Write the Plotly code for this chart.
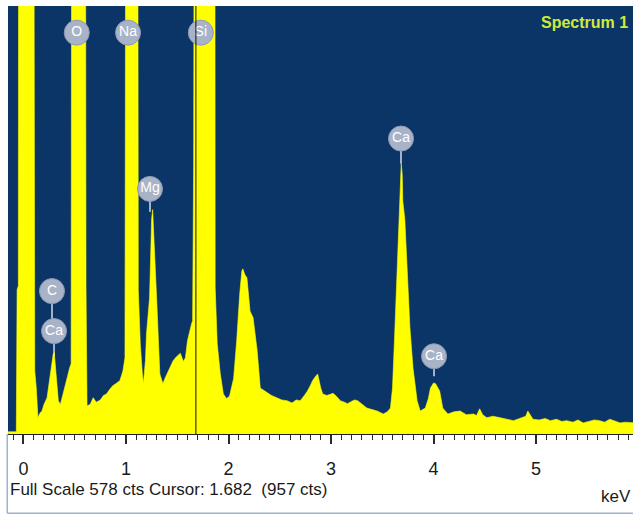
import plotly.graph_objects as go

# ---------------- data ----------------
full_scale = 578
cursor_kev = 1.682

energy_kev = [
    -0.15, -0.07, -0.062, -0.05, -0.044, 0.093, 0.11, 0.125, 0.141, 0.16,
    0.18, 0.20, 0.23, 0.26, 0.29, 0.30, 0.32, 0.34, 0.36, 0.38,
    0.40, 0.43, 0.45, 0.465, 0.475, 0.60, 0.61, 0.62, 0.65, 0.68,
    0.71, 0.75, 0.78, 0.81, 0.84, 0.87, 0.90, 0.94, 0.97, 0.99,
    1.005, 1.11, 1.12, 1.14, 1.16, 1.17, 1.19, 1.20, 1.23, 1.25,
    1.26, 1.28, 1.30, 1.33, 1.36, 1.38, 1.40, 1.43, 1.46, 1.49,
    1.53, 1.56, 1.58, 1.60, 1.62, 1.64, 1.65, 1.66, 1.675, 1.865,
    1.87, 1.89, 1.92, 1.95, 1.98, 2.01, 2.05, 2.08, 2.11, 2.13,
    2.14, 2.16, 2.18, 2.21, 2.24, 2.28, 2.31, 2.35, 2.38, 2.42,
    2.47, 2.52, 2.57, 2.62, 2.66, 2.70, 2.74, 2.77, 2.80, 2.82,
    2.85, 2.87, 2.90, 2.92, 2.96, 2.99, 3.02, 3.06, 3.09, 3.13,
    3.16, 3.20, 3.23, 3.26, 3.30, 3.35, 3.40, 3.45, 3.51, 3.55,
    3.58, 3.60, 3.62, 3.64, 3.66, 3.675, 3.685, 3.695, 3.70, 3.72,
    3.74, 3.77, 3.80, 3.84, 3.87, 3.92, 3.95, 3.97, 4.00, 4.02,
    4.06, 4.09, 4.14, 4.20, 4.26, 4.32, 4.39, 4.42, 4.45, 4.48,
    4.52, 4.58, 4.65, 4.71, 4.78, 4.84, 4.90, 4.92, 4.97, 5.03,
    5.09, 5.14, 5.20, 5.25, 5.30, 5.36, 5.41, 5.46, 5.52, 5.57,
    5.62, 5.67, 5.72, 5.77, 5.82, 5.87, 5.92, 5.96,
]

counts = [
    3, 3, 195, 200, 1500, 1500, 85, 62, 22, 28,
    31, 40, 49, 81, 108, 110, 72, 45, 40, 52,
    62, 78, 89, 95, 1500, 1500, 200, 38, 40, 49,
    43, 46, 52, 54, 60, 65, 68, 72, 85, 103,
    1500, 1500, 194, 120, 81, 68, 100, 135, 184, 290,
    303, 250, 180, 81, 68, 75, 81, 92, 99, 104,
    109, 98, 103, 126, 140, 149, 153, 365, 1500, 1500,
    198, 122, 81, 54, 48, 51, 75, 126, 190, 220,
    223, 215, 211, 166, 157, 112, 62, 58, 55, 52,
    49, 46, 45, 42, 46, 45, 52, 58, 66, 72,
    78, 81, 62, 54, 52, 54, 55, 50, 45, 43,
    41, 44, 46, 45, 40, 35, 33, 31, 27, 30,
    35, 62, 130, 207, 280, 320, 365, 350, 315, 290,
    234, 143, 89, 45, 31, 35, 48, 62, 69, 68,
    58, 35, 27, 30, 31, 26, 27, 25, 34, 26,
    22, 24, 22, 20, 18, 21, 24, 31, 20, 19,
    21, 18, 20, 17, 18, 16, 19, 15, 17, 19,
    18, 16, 20, 17, 15, 16, 15, 15,
]
assert len(energy_kev) == len(counts)

label_text = ["O", "Na", "Si", "Mg", "C", "Ca", "Ca", "Ca"]
label_kev = [0.52, 1.02, 1.73, 1.234, 0.278, 0.298, 3.683, 4.005]
label_cts = [542, 542, 542, 331, 193, 139, 399, 105]
# stems: (energy, from counts, to counts)
stem_kev = [1.234, 0.278, 0.298, 3.683, 4.005]
stem_top = [331, 193, 139, 399, 105]
stem_bot = [300, 139, 105, 365, 78]

tick_vals = [0, 1, 2, 3, 4, 5]

# ---------------- figure ----------------
NAVY = "#0B3567"
YELLOW = "#FFFF00"
FONT = "Liberation Sans Narrow, Arial Narrow, Liberation Sans, Arial, sans-serif"

fig = go.Figure()

fig.add_trace(go.Scatter(
    x=energy_kev, y=counts, mode="lines", fill="tozeroy",
    line=dict(color=YELLOW, width=0.6), fillcolor=YELLOW,
    hoverinfo="skip", showlegend=False,
))

shapes = []
for e, t, b in zip(stem_kev, stem_top, stem_bot):
    shapes.append(dict(type="line", xref="x", yref="y", x0=e, x1=e, y0=b, y1=t,
                       line=dict(color="#A3B1CB", width=2), layer="below"))
# cursor line
shapes.append(dict(type="line", xref="x", yref="y", x0=cursor_kev, x1=cursor_kev,
                   y0=0, y1=full_scale, line=dict(color="#101010", width=1), layer="above"))
# frame lines of the white strip
shapes.append(dict(type="line", xref="paper", yref="paper", x0=-0.0012, x1=-0.0012,
                   y0=-0.185, y1=0, line=dict(color="#9DB3CF", width=1.5)))
shapes.append(dict(type="line", xref="paper", yref="paper", x0=-0.0012, x1=1.0,
                   y0=-0.185, y1=-0.185, line=dict(color="#9DB3CF", width=1.5)))

fig.add_trace(go.Scatter(
    x=label_kev, y=label_cts, mode="markers+text", text=label_text,
    textposition="middle center",
    textfont=dict(color="white", size=14, family=FONT),
    marker=dict(size=25, color="#A9B3C8", line=dict(color="#8D9AB6", width=1)),
    hoverinfo="skip", showlegend=False, cliponaxis=False,
))

fig.update_layout(
    width=633, height=515,
    margin=dict(l=8, r=0, t=6, b=81),
    paper_bgcolor="white", plot_bgcolor=NAVY,
    shapes=shapes,
    xaxis=dict(
        range=[-0.151, 5.946], showgrid=False, zeroline=False,
        tickvals=tick_vals, ticktext=[str(v) for v in tick_vals],
        ticks="outside", ticklen=9, tickwidth=1.5, tickcolor="#2a2a2a",
        minor=dict(ticks="outside", ticklen=5, tickwidth=1, tickcolor="#2a2a2a", dtick=0.1, showgrid=False),
        showline=True, linecolor="#202020", linewidth=1,
        tickfont=dict(family=FONT, size=18, color="#1a1a1a"),
        ticklabelstandoff=9,
    ),
    yaxis=dict(range=[0, full_scale], showgrid=False, zeroline=False,
               showticklabels=False, ticks="", showline=False),
    annotations=[
        dict(text="<b>Spectrum 1</b>", xref="paper", yref="paper", x=0.995, y=0.9626,
             xanchor="right", yanchor="middle", showarrow=False,
             font=dict(family=FONT, size=16, color="#CFEA3A")),
        dict(text="Full Scale 578 cts Cursor: 1.682 \u00a0(957 cts)", xref="paper", yref="paper",
             x=0.0, y=-0.1308, xanchor="left", yanchor="middle", showarrow=False,
             font=dict(family=FONT, size=17, color="#1a1a1a")),
        dict(text="keV", xref="paper", yref="paper", x=1.0, y=-0.145,
             xanchor="right", yanchor="middle", showarrow=False,
             font=dict(family=FONT, size=17, color="#1a1a1a")),
    ],
)

fig.write_html("out.html", config={"displayModeBar": False},
               post_script="document.body.style.margin='0';document.body.style.overflow='hidden';")
